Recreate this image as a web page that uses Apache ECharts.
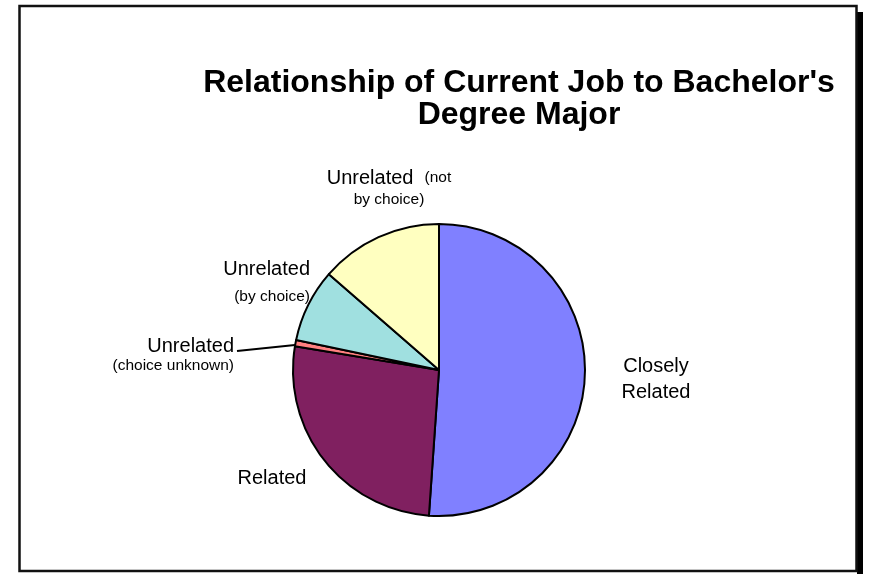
<!DOCTYPE html>
<html>
<head>
<meta charset="utf-8">
<script src="https://cdn.jsdelivr.net/npm/echarts@6/dist/echarts.min.js"></script>
<style>
html,body{margin:0;padding:0;background:#fff;}
#chart{width:871px;height:574px;}
</style>
</head>
<body>
<div id="chart"></div>
<script>
// ---- data ----
const categories = ['Closely Related', 'Related', 'Unrelated (choice unknown)', 'Unrelated (by choice)', 'Unrelated (not by choice)'];
const values = [51.1, 26.5, 0.7, 8.1, 13.6];
const labelMain = ['Closely\nRelated', 'Related', 'Unrelated', 'Unrelated', 'Unrelated'];
const labelSub = ['', '', '(choice unknown)', '(by choice)', '(not\nby choice)'];
const titleText = "Relationship of Current Job to Bachelor's\nDegree Major";

// ---- style ----
const colors = ['#8080FF', '#802060', '#FF8080', '#A0E0E0', '#FFFFC0'];
const FONT = "'Liberation Sans', Arial, sans-serif";
const labelLineHeights = [26, 22, 20, 28, 22];
const labelPos = [
  {x: 656, y: 379, align: 'center'},
  {x: 272, y: 478, align: 'center'},
  {x: 234, y: 356, align: 'right'},
  {x: 310, y: 283, align: 'right'},
  {x: 389, y: 189, align: 'center'}
];

function fmt(i) {
  const main = labelMain[i].split('\n').map(s => '{a|' + s + '}');
  const sub = labelSub[i];
  if (!sub) return main.join('\n');
  const subLines = sub.split('\n');
  if (i === 4) {
    return main[0] + '{a|  }{b|' + subLines[0] + '}\n{b|' + subLines[1] + '}';
  }
  return main.join('\n') + '\n' + subLines.map(s => '{b|' + s + '}').join('\n');
}

const data = categories.map((c, i) => ({
  name: c,
  value: values[i],
  itemStyle: {color: colors[i]},
  label: {
    formatter: fmt(i),
    rich: {
      a: {fontSize: 20, fontFamily: FONT, color: '#000', lineHeight: labelLineHeights[i]},
      b: {fontSize: 15.5, fontFamily: FONT, color: '#000', lineHeight: labelLineHeights[i]}
    }
  },
  labelLine: {show: i === 2}
}));

const chart = echarts.init(document.getElementById('chart'), null, {renderer: 'canvas'});
chart.setOption({
  backgroundColor: '#fff',
  animation: false,
  title: {
    text: titleText,
    left: 514,
    top: 62,
    textAlign: 'center',
    textStyle: {fontFamily: FONT, fontWeight: 'bold', fontSize: 32, lineHeight: 32, color: '#000'}
  },
  graphic: [
    {type: 'rect', shape: {x: 857, y: 12, width: 6, height: 562}, style: {fill: '#000'}, silent: true},
    {type: 'rect', shape: {x: 19.5, y: 6, width: 837, height: 565}, style: {fill: 'none', stroke: '#111', lineWidth: 2.5}, silent: true}
  ],
  series: [{
    type: 'pie',
    center: [439, 370],
    radius: 146,
    startAngle: 90,
    clockwise: true,
    avoidLabelOverlap: false,
    itemStyle: {borderColor: '#000', borderWidth: 2},
    label: {show: true, position: 'outside', color: '#000'},
    labelLine: {lineStyle: {color: '#000', width: 2}},
    emphasis: {disabled: true},
    labelLayout: function (p) {
      const lp = labelPos[p.dataIndex];
      const out = {x: lp.x, y: lp.y, align: lp.align, verticalAlign: 'middle'};
      if (p.dataIndex === 2) {
        out.labelLinePoints = [[295, 345], [266, 348], [237, 351]];
      }
      return out;
    },
    data: data
  }]
});
</script>
</body>
</html>
